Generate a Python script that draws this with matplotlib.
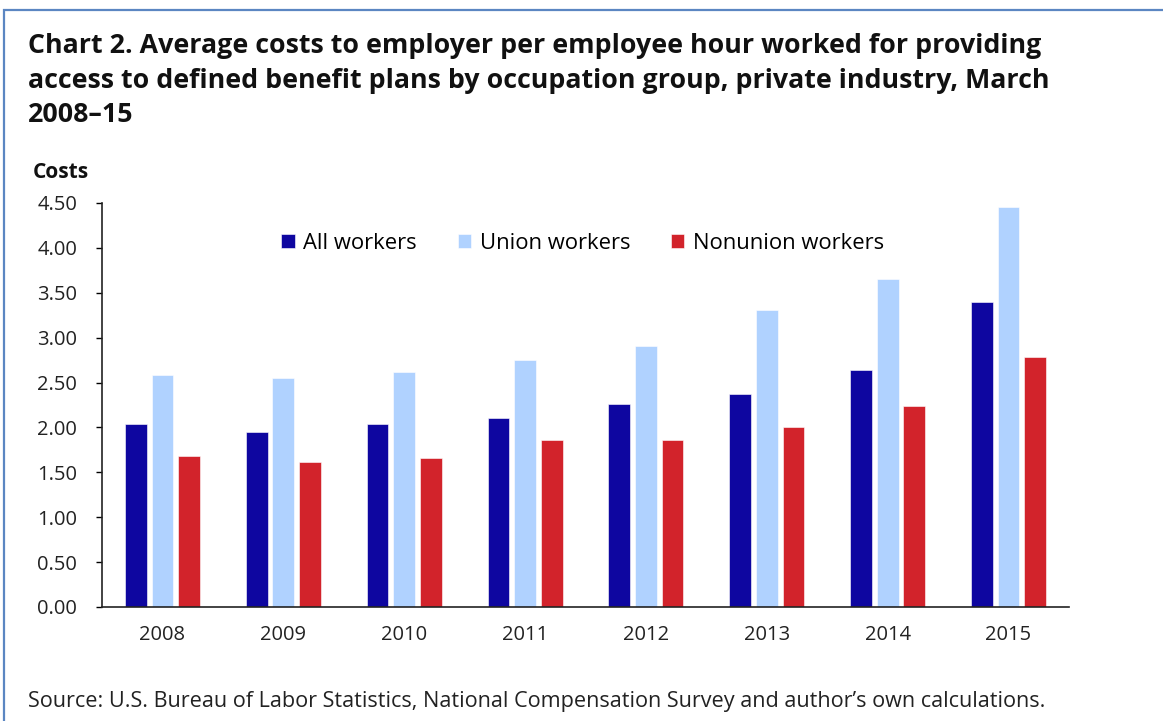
import numpy as np
import matplotlib
matplotlib.use("Agg")
import matplotlib.pyplot as plt
from matplotlib.patches import Rectangle

years = ['2008', '2009', '2010', '2011', '2012', '2013', '2014', '2015']
all_workers = [2.04, 1.95, 2.04, 2.11, 2.26, 2.37, 2.64, 3.40]
union = [2.58, 2.55, 2.62, 2.75, 2.91, 3.31, 3.65, 4.45]
nonunion = [1.68, 1.62, 1.66, 1.86, 1.86, 2.00, 2.24, 2.78]
series_names = ['All workers', 'Union workers', 'Nonunion workers']
yticks = [0, 0.5, 1.0, 1.5, 2.0, 2.5, 3.0, 3.5, 4.0, 4.5]

colors = ['#0E06A0', '#B0D2FF', '#D2232B']

plt.rcParams['font.family'] = ['Open Sans', 'DejaVu Sans']

W, H = 1163, 721
fig = plt.figure(figsize=(W / 100, H / 100), dpi=100)

# blue frame (left and top edges visible)
fig.patches.append(Rectangle((4 / W, -0.05), 1.2, 1 - 10 / H + 0.05,
                             transform=fig.transFigure, fill=False,
                             edgecolor='#5B86C2', linewidth=1.6))

ax = fig.add_axes([102 / W, 1 - 607 / H, (1069 - 102) / W, (607 - 203) / H])

x = np.arange(len(years))
w = 0.18
off = 0.22
for i, (vals, name) in enumerate(zip([all_workers, union, nonunion], series_names)):
    ax.bar(x + (i - 1) * off, vals, width=w, color=colors[i], label=name,
           edgecolor='white', linewidth=0.4)

ax.set_xlim(-0.5, len(years) - 0.5)
ax.set_ylim(0, 4.5)
ax.set_yticks(yticks)
ax.set_yticklabels(['%.2f' % v for v in yticks], fontsize=14.5, color='#222222')
ax.set_xticks(x)
ax.set_xticklabels(years, fontsize=14.5, color='#222222')
ax.tick_params(axis='x', length=0, pad=13)
ax.tick_params(axis='y', length=4, width=1, pad=14, direction='out')
for s in ['top', 'right']:
    ax.spines[s].set_visible(False)
for s in ['left', 'bottom']:
    ax.spines[s].set_linewidth(1.2)
    ax.spines[s].set_color('#222222')

leg = ax.legend(loc='upper center', bbox_to_anchor=(0.497, 0.975), ncol=3,
                frameon=False, fontsize=15.8, handlelength=0.6, handleheight=0.6,
                handletextpad=0.4, columnspacing=1.85)

fig.text(33 / W, 1 - 172 / H, 'Costs', fontsize=15, fontweight='bold',
         va='center', ha='left', color='#111111')

fig.text(28 / W, 1 - 33 / H,
         'Chart 2. Average costs to employer per employee hour worked for providing\n'
         'access to defined benefit plans by occupation group, private industry, March\n'
         '2008\u201315',
         fontsize=19.3, fontweight='bold', va='top', ha='left', linespacing=1.43,
         color='#111111')

fig.text(28 / W, 1 - 701 / H,
         'Source: U.S. Bureau of Labor Statistics, National Compensation Survey and author\u2019s own calculations.',
         fontsize=15.6, va='center', ha='left', color='#222222')

fig.savefig('out.png', dpi=100)
